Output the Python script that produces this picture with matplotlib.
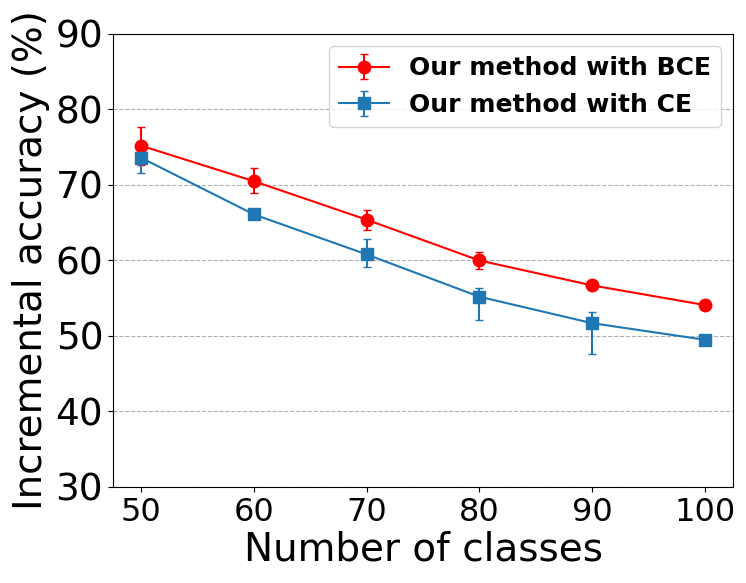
import matplotlib
matplotlib.use("Agg")
import matplotlib.pyplot as plt
import numpy as np

classes = [50, 60, 70, 80, 90, 100]
bce_mean = [75.2, 70.5, 65.4, 60.0, 56.7, 54.1]
bce_err_low = [2.5, 1.6, 1.4, 1.1, 0.3, 0.2]
bce_err_high = [2.5, 1.7, 1.3, 1.1, 0.3, 0.2]
ce_mean = [73.6, 66.1, 60.8, 55.2, 51.7, 49.5]
ce_err_low = [2.0, 0.6, 1.6, 3.1, 4.1, 0.2]
ce_err_high = [0.5, 0.5, 2.0, 1.2, 1.5, 0.2]

fig = plt.figure(figsize=(7.46, 5.83), dpi=100)
ax = fig.add_axes([0.1515, 0.1647, 0.8311, 0.777])

ax.errorbar(classes, bce_mean, yerr=[bce_err_low, bce_err_high], color='red', marker='o',
            markersize=9, capsize=3, linewidth=1.5, label='Our method with BCE')
ax.errorbar(classes, ce_mean, yerr=[ce_err_low, ce_err_high], color='#1f77b4', marker='s',
            markersize=9, capsize=3, linewidth=1.5, label='Our method with CE')

ax.set_xlim(47.5, 102.5)
ax.set_ylim(30, 90)
ax.set_xticks(classes)
ax.set_yticks(np.arange(30, 91, 10))
ax.tick_params(axis='x', labelsize=23)
ax.tick_params(axis='y', labelsize=27)
ax.grid(axis='y', linestyle='--', color='#b0b0b0', linewidth=0.8)
ax.set_xlabel('Number of classes', fontsize=28, labelpad=2)
ax.set_ylabel('Incremental accuracy (%)', fontsize=28, labelpad=4)
ax.legend(loc='upper right', prop={'weight': 'bold', 'size': 18})

fig.savefig('out.png', dpi=100)
